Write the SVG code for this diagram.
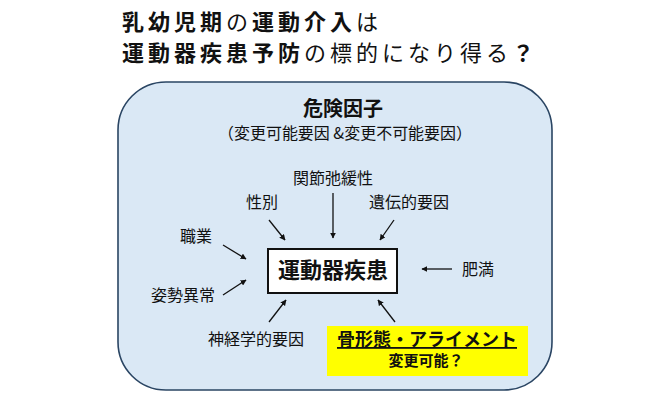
<svg xmlns="http://www.w3.org/2000/svg" width="650" height="400" viewBox="0 0 650 400">
<style>
text{font-family:"Noto Sans CJK JP","Noto Sans",sans-serif;fill:#111}
.b{font-weight:bold}
.t{font-size:22px;letter-spacing:4px}
.lbl{font-size:16px;text-anchor:middle}
.ar{stroke:#111;stroke-width:1.3;fill:none;marker-end:url(#ah)}
</style>
<defs>
<marker id="ah" viewBox="0 0 10 10" refX="9" refY="5" markerWidth="6" markerHeight="6" markerUnits="userSpaceOnUse" orient="auto">
<path d="M0,0 L10,5 L0,10 z" fill="#111"/>
</marker>
</defs>
<rect width="650" height="400" fill="#fff"/>
<g id="title">
<text class="t" x="122" y="30"><tspan class="b">乳幼児期</tspan>の<tspan class="b">運動介入</tspan>は</text>
<text class="t" x="122" y="61"><tspan class="b">運動器疾患予防</tspan>の標的になり得る<tspan class="b">？</tspan></text>
</g>
<g id="risk-frame">
<rect x="118" y="82" width="434" height="308" rx="48" ry="48" fill="#dae8f5" stroke="#2a4563" stroke-width="1.6"/>
<text class="b" x="343" y="116" font-size="20" text-anchor="middle">危険因子</text>
<text x="345" y="139" font-size="16" text-anchor="middle" textLength="254" lengthAdjust="spacingAndGlyphs">（変更可能要因 &amp;変更不可能要因）</text>
</g>
<g id="connectors">
<line class="ar" x1="333" y1="193" x2="333" y2="238"/>
<line class="ar" x1="269" y1="220" x2="285" y2="240"/>
<line class="ar" x1="394" y1="220" x2="380" y2="240"/>
<line class="ar" x1="223" y1="245" x2="246" y2="259"/>
<line class="ar" x1="223" y1="295" x2="246" y2="280"/>
<line class="ar" x1="452" y1="269" x2="422" y2="269"/>
<line class="ar" x1="269" y1="322" x2="286" y2="300"/>
<line class="ar" x1="395" y1="322" x2="378" y2="300"/>
</g>
<g id="node-main">
<rect x="268" y="249" width="129" height="44" fill="#fff" stroke="#111" stroke-width="2"/>
<text class="b" x="333" y="278" font-size="22" text-anchor="middle">運動器疾患</text>
</g>
<g id="node-kansetsu"><text class="lbl" x="333" y="184">関節弛緩性</text></g>
<g id="node-seibetsu"><text class="lbl" x="262" y="208">性別</text></g>
<g id="node-iden"><text class="lbl" x="409" y="208">遺伝的要因</text></g>
<g id="node-shokugyo"><text class="lbl" x="196" y="242">職業</text></g>
<g id="node-shisei"><text class="lbl" x="183" y="301">姿勢異常</text></g>
<g id="node-himan"><text class="lbl" x="478" y="275">肥満</text></g>
<g id="node-shinkei"><text class="lbl" x="256" y="345">神経学的要因</text></g>
<g id="node-kotsu">
<rect x="327" y="326" width="201" height="50" fill="#ffff00"/>
<text class="b" x="427" y="346" font-size="18" text-anchor="middle" text-decoration="underline">骨形態・アライメント</text>
<text class="b" x="426" y="366" font-size="15" text-anchor="middle">変更可能？</text>
</g>
</svg>
